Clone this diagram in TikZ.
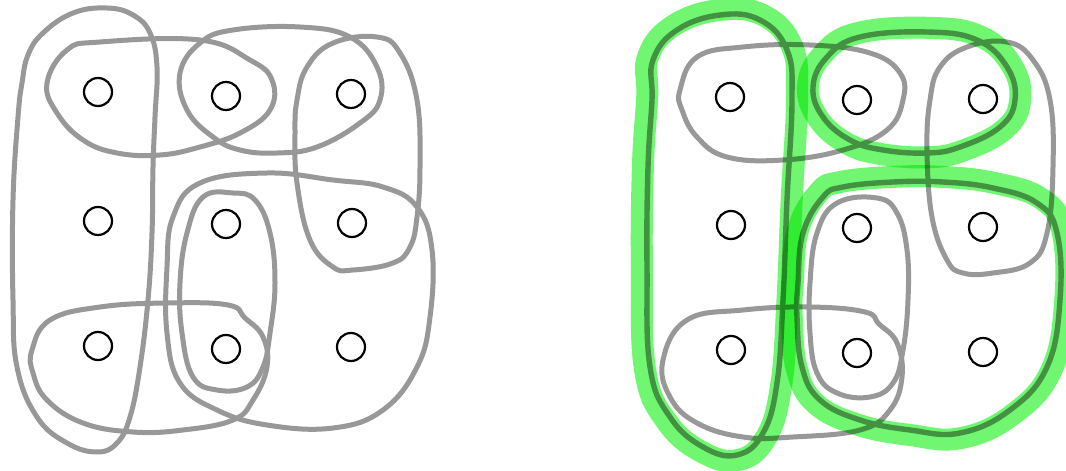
\documentclass[tikz,border=0pt]{standalone}
\usetikzlibrary{calc}
\definecolor{loopgray}{RGB}{152,152,152}
\definecolor{hl}{RGB}{112,246,112}
\tikzset{
  vtx/.style={circle,draw=black,line width=2.2pt,minimum size=28pt,inner sep=0pt,fill=none},
  edgeloop/.style={draw=loopgray,line width=5pt,line join=round},
  selloop/.style={draw=loopgray,line width=5.4pt,line join=round},
  highlight/.style={draw=hl,line width=22pt,line join=round},
}
\begin{document}
\begin{tikzpicture}[x=1pt,y=-1pt]
\useasboundingbox[fill=white] (0,0) rectangle (1066,471);

% ---------- LEFT PANEL ----------
% A: column 1
\draw[edgeloop] plot[smooth cycle,tension=0.7] coordinates {(28,55) (43,33) (73,13) (107,8) (133,15) (150,33) (157,67) (155,117) (153,167) (152,233) (148,300) (140,367) (130,417) (117,443) (97,452) (67,443) (37,417) (17,367) (13,300) (13,200) (18,117) (22,83)};
% B: top-left pair
\draw[edgeloop] plot[smooth cycle,tension=0.7] coordinates {(47,83) (67,50) (100,42) (200,40) (250,60) (272,80) (270,110) (240,133) (200,147) (160,155) (117,153) (83,140) (57,113)};
% C: top-right pair
\draw[edgeloop] plot[smooth cycle,tension=0.7] coordinates {(180,73) (200,43) (233,30) (300,27) (350,37) (377,67) (380,100) (360,123) (317,147) (277,153) (240,150) (213,137) (187,110)};
% D: right column pair
\draw[edgeloop] plot[smooth cycle,tension=0.7] coordinates {(297,100) (307,67) (333,43) (377,37) (400,53) (417,100) (420,167) (417,217) (410,247) (393,263) (353,270) (333,267) (310,240) (297,183) (295,133)};
% E: bottom-right block
\draw[edgeloop] plot[smooth cycle,tension=0.7] coordinates {(167,267) (173,217) (200,183) (267,173) (333,180) (383,187) (417,207) (432,250) (430,317) (417,367) (383,410) (333,428) (267,425) (217,410) (180,383) (167,333)};
% F: middle column pair
\draw[edgeloop] plot[smooth cycle,tension=0.7] coordinates {(180,283) (187,233) (203,197) (233,193) (255,200) (270,233) (275,283) (270,333) (263,367) (247,387) (217,390) (193,377) (182,333)};
% G: bottom-left pair
\draw[edgeloop] plot[smooth cycle,tension=0.7] coordinates {(32,350) (50,320) (100,307) (167,303) (228,305) (245,318) (263,337) (267,367) (253,400) (233,420) (183,430) (133,432) (83,423) (47,400) (33,373)};

% ---------- RIGHT PANEL ----------
% B'
\draw[edgeloop] plot[smooth cycle,tension=0.7] coordinates {(680,90) (697,57) (743,47) (810,45) (870,53) (900,73) (903,100) (887,130) (843,150) (783,160) (727,157) (697,137) (682,110)};
% D'
\draw[edgeloop] plot[smooth cycle,tension=0.7] coordinates {(930,100) (940,67) (967,47) (1007,42) (1033,60) (1050,100) (1053,167) (1047,233) (1030,263) (993,273) (963,273) (947,260) (932,217) (927,150)};
% F'
\draw[edgeloop] plot[smooth cycle,tension=0.7] coordinates {(810,283) (817,233) (837,203) (877,198) (897,213) (907,250) (908,300) (903,350) (893,383) (870,397) (837,393) (817,373) (810,333)};
% G'
\draw[edgeloop] plot[smooth cycle,tension=0.7] coordinates {(663,360) (687,320) (743,310) (810,307) (865,312) (879,324) (897,343) (902,377) (890,410) (860,430) (793,437) (743,437) (697,423) (670,397)};

% selected loops (dark outlines)
\def\loopGA{(653,60) (677,30) (720,15) (760,20) (787,50) (792,100) (787,200) (783,300) (777,383) (763,433) (737,455) (703,447) (670,417) (650,367) (647,267) (648,167) (652,100)}
\def\loopGC{(813,87) (827,57) (860,37) (927,32) (977,40) (1007,67) (1015,100) (1000,127) (960,147) (927,153) (883,150) (850,140) (823,117)}
\def\loopGE{(798,283) (803,233) (823,197) (843,187) (893,182) (943,182) (993,188) (1037,203) (1057,233) (1060,300) (1047,367) (1010,410) (960,433) (910,430) (860,420) (820,400) (802,367) (797,317)}
\draw[selloop] plot[smooth cycle,tension=0.7] coordinates {\loopGA};
\draw[selloop] plot[smooth cycle,tension=0.7] coordinates {\loopGC};
\draw[selloop] plot[smooth cycle,tension=0.7] coordinates {\loopGE};

% green highlighter (slightly outside the outlines)
\begin{scope}[blend mode=multiply]
\begin{scope}[shift={(720,235)},xscale=1.07,yscale=1.023,shift={(-720,-235)}]
\draw[highlight] plot[smooth cycle,tension=0.7] coordinates {\loopGA};
\end{scope}
\begin{scope}[shift={(914,92)},xscale=1.05,yscale=1.07,shift={(-914,-92)}]
\draw[highlight] plot[smooth cycle,tension=0.7] coordinates {\loopGC};
\end{scope}
\begin{scope}[shift={(928,308)},xscale=1.04,yscale=1.04,shift={(-928,-308)}]
\draw[highlight] plot[smooth cycle,tension=0.7] coordinates {\loopGE};
\end{scope}
\end{scope}

% ---------- VERTICES ----------
\node[vtx] (l11) at (98,92) {};
\node[vtx] (l21) at (226,96) {};
\node[vtx] (l31) at (351,94) {};
\node[vtx] (l12) at (98,221) {};
\node[vtx] (l22) at (226,224) {};
\node[vtx] (l32) at (352,223) {};
\node[vtx] (l13) at (98,346) {};
\node[vtx] (l23) at (226,349) {};
\node[vtx] (l33) at (351,347) {};

\node[vtx] (r11) at (730,97) {};
\node[vtx] (r21) at (857,100) {};
\node[vtx] (r31) at (983,99) {};
\node[vtx] (r12) at (731,225) {};
\node[vtx] (r22) at (857,228) {};
\node[vtx] (r32) at (983,227) {};
\node[vtx] (r13) at (731,350) {};
\node[vtx] (r23) at (857,353) {};
\node[vtx] (r33) at (983,352) {};
\end{tikzpicture}
\end{document}
